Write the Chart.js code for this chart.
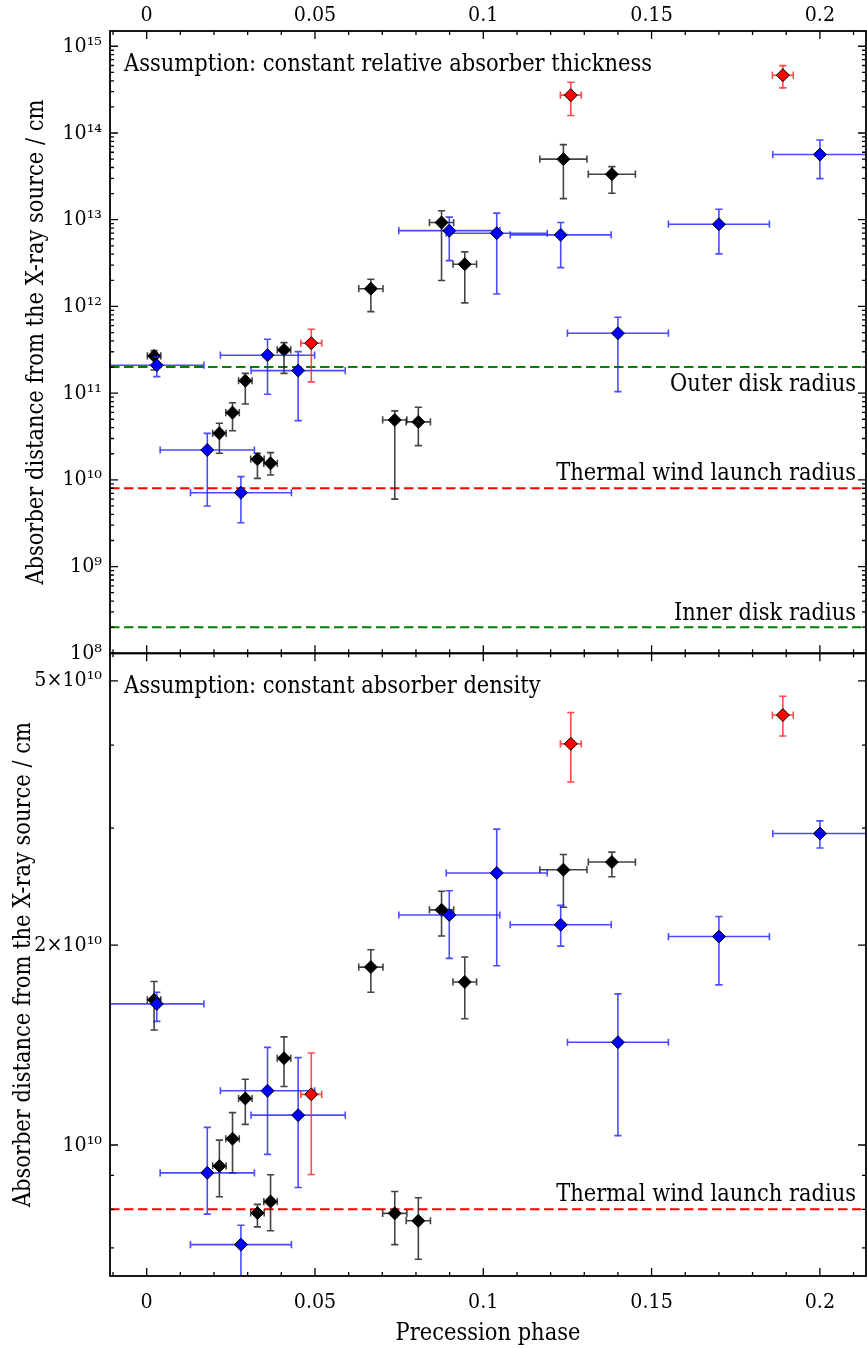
<!DOCTYPE html>
<html><head><meta charset="utf-8">
<script src="https://cdn.jsdelivr.net/npm/chart.js@4.4.0/dist/chart.umd.min.js"></script>
<style>
html,body{margin:0;padding:0;background:#fff;overflow:hidden;}
#wrap{position:relative;width:867px;height:1348px;overflow:hidden;background:#fff;}
canvas{position:absolute;left:0;}
</style></head><body>
<div id="wrap">
<canvas id="topChart" width="867" height="670" style="top:0px"></canvas>
<canvas id="botChart" width="867" height="708" style="top:640px"></canvas>
</div>
<script>
// ---------------- DATA ----------------
const blackPhase    = [0.0022, 0.0216, 0.0255, 0.0293, 0.0329, 0.0368, 0.0408, 0.0666, 0.0737, 0.0807, 0.0876, 0.0945, 0.1238, 0.1382];
const blackPhaseErr = [0.002, 0.002, 0.002, 0.002, 0.002, 0.002, 0.002, 0.0036, 0.0036, 0.0036, 0.0036, 0.0035, 0.007, 0.007];
const blackTop   = [2.69e11, 3.44e10, 5.96e10, 1.39e11, 1.73e10, 1.55e10, 3.15e11, 1.6e12, 4.91e10, 4.66e10, 9.27e12, 3.07e12, 4.99e13, 3.35e13];
const blackTopLo = [1.85e11, 2.03e10, 3.69e10, 7.5e10, 1.04e10, 1.14e10, 1.69e11, 8.7e11, 6.0e9, 2.48e10, 1.99e12, 1.1e12, 1.75e13, 2.02e13];
const blackTopHi = [3.09e11, 4.5e10, 7.76e10, 1.69e11, 2.03e10, 2.06e10, 3.82e11, 2.06e12, 6.24e10, 6.87e10, 1.27e13, 4.26e12, 7.35e13, 4.09e13];
const blackBot   = [1.654e10, 9.30e9, 1.022e10, 1.175e10, 7.90e9, 8.22e9, 1.351e10, 1.853e10, 7.89e9, 7.69e9, 2.26e10, 1.76e10, 2.597e10, 2.667e10];
const blackBotLo = [1.49e10, 8.36e9, 9.08e9, 1.074e10, 7.53e9, 7.43e9, 1.225e10, 1.698e10, 7.08e9, 6.73e9, 2.064e10, 1.549e10, 2.28e10, 2.535e10];
const blackBotHi = [1.763e10, 1.017e10, 1.119e10, 1.256e10, 8.14e9, 9.02e9, 1.455e10, 1.968e10, 8.51e9, 8.33e9, 2.41e10, 1.919e10, 2.738e10, 2.761e10];

const bluePhase    = [0.003, 0.018, 0.028, 0.0359, 0.045, 0.0899, 0.104, 0.123, 0.140, 0.170, 0.200];
const bluePhaseErr = [0.014, 0.014, 0.015, 0.014, 0.014, 0.015, 0.015, 0.015, 0.015, 0.015, 0.014];
const blueTop   = [2.1e11, 2.21e10, 7.11e9, 2.74e11, 1.82e11, 7.48e12, 6.98e12, 6.68e12, 4.91e11, 8.87e12, 5.64e13];
const blueTopLo = [1.55e11, 5.0e9, 3.2e9, 9.7e10, 4.82e10, 3.37e12, 1.39e12, 2.8e12, 1.04e11, 4.04e12, 2.98e13];
const blueTopHi = [2.6e11, 3.44e10, 1.09e10, 4.19e11, 3.01e11, 1.07e13, 1.19e13, 9.27e12, 7.5e11, 1.32e13, 8.3e13];
const blueBot   = [1.631e10, 9.08e9, 7.08e9, 1.207e10, 1.109e10, 2.22e10, 2.568e10, 2.146e10, 1.428e10, 2.06e10, 2.944e10];
const blueBotLo = [1.535e10, 7.87e9, 6.0e9, 9.68e9, 8.63e9, 1.91e10, 1.862e10, 1.993e10, 1.033e10, 1.742e10, 2.8e10];
const blueBotHi = [1.698e10, 1.063e10, 7.57e9, 1.403e10, 1.354e10, 2.415e10, 2.99e10, 2.295e10, 1.689e10, 2.208e10, 3.076e10];

const redPhase    = [0.0489, 0.126, 0.189];
const redPhaseErr = [0.0031, 0.0031, 0.0031];
const redTop   = [3.77e11, 2.73e14, 4.64e14];
const redTopLo = [1.35e11, 1.59e14, 3.31e14];
const redTopHi = [5.46e11, 3.85e14, 5.98e14];
const redBot   = [1.192e10, 4.018e10, 4.44e10];
const redBotLo = [9.03e9, 3.52e10, 4.13e10];
const redBotHi = [1.376e10, 4.48e10, 4.74e10];

const xTickValues  = [0, 0.05, 0.1, 0.15, 0.2];
const xTickLabels  = ['0', '0.05', '0.1', '0.15', '0.2'];
const xMinorValues = [-0.01, 0.01, 0.02, 0.03, 0.04, 0.06, 0.07, 0.08, 0.09, 0.11, 0.12, 0.13, 0.14, 0.16, 0.17, 0.18, 0.19, 0.21];

const topYTickValues = [1e8, 1e9, 1e10, 1e11, 1e12, 1e13, 1e14, 1e15];
const topYTickLabels = ['10\u2078', '10\u2079', '10\u00B9\u2070', '10\u00B9\u00B9', '10\u00B9\u00B2', '10\u00B9\u00B3', '10\u00B9\u2074', '10\u00B9\u2075'];
const botYTickValues = [1e10, 2e10, 5e10];
const botYTickLabels = ['10\u00B9\u2070', '2\u00D710\u00B9\u2070', '5\u00D710\u00B9\u2070'];
const botYMinorValues = [7e9, 8e9, 9e9, 3e10, 4e10];

const topRefValues = [2e11, 8e9, 2e8];
const topRefLabels = ['Outer disk radius', 'Thermal wind launch radius', 'Inner disk radius'];
const botRefValues = [8e9];
const botRefLabels = ['Thermal wind launch radius'];

const panelNotes = ['Assumption: constant relative absorber thickness', 'Assumption: constant absorber density'];
const yTitle = 'Absorber distance from the X-ray source / cm';
const xTitle = 'Precession phase';

// ---------------- STYLE / LAYOUT ----------------
const FAMILY = "'DejaVu Serif Condensed', 'DejaVu Serif', 'Liberation Serif', serif";
function fitSize(text, target) {
  const c = document.createElement('canvas').getContext('2d');
  c.font = '100px ' + FAMILY;
  return 100 * target / c.measureText(text).width;
}
const textSize = fitSize('Thermal wind launch radius', 300);
const tickSize = fitSize('0.05', 42.5);
const X_MIN = -0.0109, X_MAX = 0.2137;

function topMinors() {
  const out = [];
  for (let k = 8; k <= 15; k++) for (let m = 2; m <= 9; m++) { const v = m * Math.pow(10, k); if (v < 1.5e15) out.push(v); }
  return out;
}

function points(px, pe, y, lo, hi) {
  return px.map((x, i) => ({x: x, y: y[i], xe: pe[i], ylo: lo[i], yhi: hi[i]}));
}

const errPlugin = {
  id: 'errbars',
  beforeDatasetDraw(chart, args) {
    const ds = chart.data.datasets[args.index];
    const xs = chart.scales.x, ys = chart.scales.y, ctx = chart.ctx, a = chart.chartArea;
    ctx.save();
    ctx.beginPath(); ctx.rect(a.left, a.top, a.right - a.left, a.bottom - a.top); ctx.clip();
    ctx.strokeStyle = ds.errColor; ctx.lineWidth = 1.6;
    const c = 3.6;
    ds.data.forEach(p => {
      const px = xs.getPixelForValue(p.x), py = ys.getPixelForValue(p.y);
      const xl = xs.getPixelForValue(p.x - p.xe), xr = xs.getPixelForValue(p.x + p.xe);
      const yl = ys.getPixelForValue(p.ylo), yh = ys.getPixelForValue(p.yhi);
      ctx.beginPath();
      ctx.moveTo(xl, py); ctx.lineTo(xr, py);
      ctx.moveTo(xl, py - c); ctx.lineTo(xl, py + c);
      ctx.moveTo(xr, py - c); ctx.lineTo(xr, py + c);
      ctx.moveTo(px, yl); ctx.lineTo(px, yh);
      ctx.moveTo(px - c, yl); ctx.lineTo(px + c, yl);
      ctx.moveTo(px - c, yh); ctx.lineTo(px + c, yh);
      ctx.stroke();
    });
    ctx.restore();
  }
};

function framePlugin(cfg) {
  return {
    id: 'frame',
    beforeDatasetsDraw(chart) {
      const {ctx, chartArea: a, scales: {x, y}} = chart;
      ctx.save();
      ctx.beginPath(); ctx.rect(a.left, a.top, a.right - a.left, a.bottom - a.top); ctx.clip();
      cfg.refValues.forEach((v, i) => {
        const py = y.getPixelForValue(v);
        ctx.strokeStyle = cfg.refColors[i]; ctx.lineWidth = 2; ctx.setLineDash([9.5, 4.5]);
        ctx.beginPath(); ctx.moveTo(a.left, py); ctx.lineTo(a.right, py); ctx.stroke();
        ctx.setLineDash([]);
        ctx.fillStyle = '#000'; ctx.font = textSize.toFixed(2) + 'px ' + FAMILY;
        ctx.textAlign = 'right'; ctx.textBaseline = 'alphabetic';
        ctx.fillText(cfg.refLabels[i], a.right - 10, py + cfg.refOffsets[i]);
      });
      ctx.textAlign = 'left';
      ctx.fillText(cfg.note, a.left + 14, a.top + 40);
      ctx.restore();
    },
    afterDraw(chart) {
      const {ctx, chartArea: a, scales: {x, y}} = chart;
      ctx.save();
      ctx.strokeStyle = '#000';
      ctx.lineWidth = 1.3;
      const tick = (x1, y1, x2, y2) => { ctx.moveTo(x1, y1); ctx.lineTo(x2, y2); };
      ctx.beginPath();
      xTickValues.forEach(v => { const p = x.getPixelForValue(v); tick(p, a.top, p, a.top + 8); tick(p, a.bottom, p, a.bottom - 8); });
      xMinorValues.forEach(v => { const p = x.getPixelForValue(v); tick(p, a.top, p, a.top + 4); tick(p, a.bottom, p, a.bottom - 4); });
      cfg.yMajor.forEach(v => { const p = y.getPixelForValue(v); tick(a.left, p, a.left + 8, p); tick(a.right, p, a.right - 8, p); });
      cfg.yMinor.forEach(v => { const p = y.getPixelForValue(v); tick(a.left, p, a.left + 4, p); tick(a.right, p, a.right - 4, p); });
      ctx.stroke();
      ctx.lineWidth = 1.8;
      ctx.strokeRect(a.left, a.top, a.right - a.left, a.bottom - a.top);
      ctx.restore();
    }
  };
}

function makeDatasets(which) {
  const isTop = which === 'top';
  return [
    {label: 'black', data: points(blackPhase, blackPhaseErr, isTop ? blackTop : blackBot, isTop ? blackTopLo : blackBotLo, isTop ? blackTopHi : blackBotHi),
     backgroundColor: '#000000', borderColor: '#000000', errColor: 'rgba(20,20,20,0.8)', order: 3},
    {label: 'blue', data: points(bluePhase, bluePhaseErr, isTop ? blueTop : blueBot, isTop ? blueTopLo : blueBotLo, isTop ? blueTopHi : blueBotHi),
     backgroundColor: '#0000ff', borderColor: '#000000', errColor: 'rgba(30,30,255,0.8)', order: 2},
    {label: 'red', data: points(redPhase, redPhaseErr, isTop ? redTop : redBot, isTop ? redTopLo : redBotLo, isTop ? redTopHi : redBotHi),
     backgroundColor: '#ff0000', borderColor: '#000000', errColor: 'rgba(255,30,30,0.8)', order: 1}
  ];
}

const tickFont = {family: FAMILY, size: tickSize};
const textFont = {family: FAMILY, size: textSize};

function baseOptions(isTop) {
  return {
    responsive: false, animation: false, events: [],
    layout: {autoPadding: false, padding: isTop ? {left: 0, right: 1, top: 0, bottom: 16.7} : {left: 0, right: 1, top: 13.3, bottom: 0}},
    plugins: {legend: {display: false}, tooltip: {enabled: false}},
    elements: {point: {pointStyle: 'rectRot', radius: 6.5, borderWidth: 1}},
    scales: {
      x: {
        type: 'linear', position: isTop ? 'top' : 'bottom', min: X_MIN, max: X_MAX,
        grid: {display: false, drawTicks: false}, border: {display: false},
        afterBuildTicks: s => { s.ticks = xTickValues.map(v => ({value: v})); },
        afterFit: s => { s.height = isTop ? 31 : 72; s.paddingLeft = 0; s.paddingRight = 0; },
        ticks: {callback: (v, i) => xTickLabels[i], font: tickFont, color: '#000', padding: isTop ? 3 : 14, maxRotation: 0, autoSkip: false},
        title: {display: !isTop, text: xTitle, font: textFont, color: '#000', padding: {top: 0, bottom: 0}}
      },
      y: {
        type: 'logarithmic', position: 'left',
        min: isTop ? 1e8 : 6.35e9, max: isTop ? 1.5e15 : 5.5e10,
        grid: {display: false, drawTicks: false}, border: {display: false},
        afterBuildTicks: s => { s.ticks = (isTop ? topYTickValues : botYTickValues).map(v => ({value: v})); },
        afterFit: s => { s.width = 110; s.paddingTop = 0; s.paddingBottom = 0; },
        ticks: {callback: (v, i) => (isTop ? topYTickLabels : botYTickLabels)[i], font: tickFont, color: '#000', padding: 8, autoSkip: false},
        title: {display: true, text: yTitle, font: textFont, color: '#000', padding: {top: isTop ? 22.5 : 9.5, bottom: 0}}
      }
    }
  };
}

new Chart(document.getElementById('topChart'), {
  type: 'scatter',
  data: {datasets: makeDatasets('top')},
  options: baseOptions(true),
  plugins: [errPlugin, framePlugin({
    refValues: topRefValues, refLabels: topRefLabels, refColors: ['#008000', '#ff0000', '#008000'], refOffsets: [24, -8.5, -7],
    note: panelNotes[0], yMajor: topYTickValues, yMinor: topMinors()
  })]
});

new Chart(document.getElementById('botChart'), {
  type: 'scatter',
  data: {datasets: makeDatasets('bot')},
  options: baseOptions(false),
  plugins: [errPlugin, framePlugin({
    refValues: botRefValues, refLabels: botRefLabels, refColors: ['#ff0000'], refOffsets: [-8.5],
    note: panelNotes[1], yMajor: botYTickValues, yMinor: botYMinorValues
  })]
});
</script>
</body></html>
